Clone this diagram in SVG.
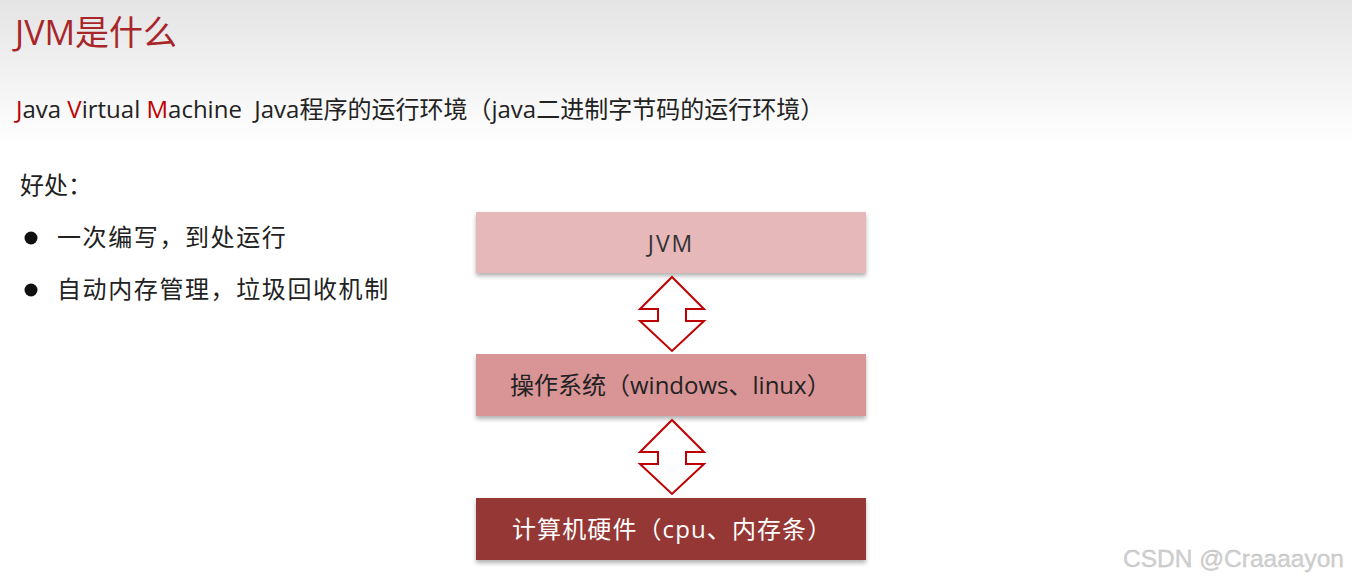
<svg xmlns="http://www.w3.org/2000/svg" width="1352" height="583" viewBox="0 0 1352 583">
<defs>
<linearGradient id="bg" x1="0" y1="0" x2="0" y2="1">
<stop offset="0" stop-color="#e4e4e4"/>
<stop offset="0.25" stop-color="#ffffff"/>
<stop offset="1" stop-color="#ffffff"/>
</linearGradient>
<filter id="sh" x="-5%" y="-10%" width="110%" height="130%">
<feDropShadow dx="0" dy="3" stdDeviation="2" flood-color="#000" flood-opacity="0.3"/>
</filter>
</defs>
<style>
text{font-family:"Open Sans","Noto Sans CJK SC","Noto Sans",sans-serif;white-space:pre;}
.body{font-size:24px;fill:#222;}
.red{fill:#c00000;}
.arrow{fill:#fff;stroke:#c00000;stroke-width:2;stroke-linejoin:miter;}
</style>
<rect x="0" y="0" width="1352" height="583" fill="url(#bg)"/>
<text x="15" y="45" style="font-size:34px;fill:#a8262a">JVM是什么</text>
<text x="16" y="118" class="body" xml:space="preserve"><tspan class="red">J</tspan>ava <tspan class="red">V</tspan>irtual <tspan class="red">M</tspan>achine  Java程序的运行环境（java二进制字节码的运行环境）</text>
<text x="20" y="194" class="body">好处：</text>
<circle cx="31" cy="238" r="6.5" fill="#111"/>
<text x="57" y="246" class="body" style="letter-spacing:1.6px">一次编写，到处运行</text>
<circle cx="31" cy="290" r="6.5" fill="#111"/>
<text x="57" y="298" class="body" style="letter-spacing:1.6px">自动内存管理，垃圾回收机制</text>
<g id="jvm">
<rect x="476" y="212" width="390" height="61" fill="#e6b8b9" filter="url(#sh)"/>
<text x="671" y="252" text-anchor="middle" style="font-size:23px;fill:#333;letter-spacing:2px">JVM</text>
</g>
<g id="os">
<rect x="476" y="354" width="390" height="62" fill="#d99596" filter="url(#sh)"/>
<text x="510" y="394" class="body">操作系统（windows、linux）</text>
</g>
<g id="hw">
<rect x="476" y="498" width="390" height="62" fill="#953735" filter="url(#sh)"/>
<text x="512" y="538" style="font-size:24px;fill:#fff;letter-spacing:1.1px">计算机硬件（cpu、内存条）</text>
</g>
<g id="connectors">
<path class="arrow" d="M672,277 L704,309 L686,309 L686,321 L704,321 L672,351 L640,321 L658,321 L658,309 L640,309 Z"/>
<path class="arrow" d="M672,420 L704,452 L686,452 L686,464 L704,464 L672,494 L640,464 L658,464 L658,452 L640,452 Z"/>
</g>
<text x="1123" y="567" style="font-family:'Liberation Sans',sans-serif;font-size:24.5px;fill:#d0d0d0;stroke:#bbb;stroke-width:0.3">CSDN @Craaaayon</text>
</svg>
